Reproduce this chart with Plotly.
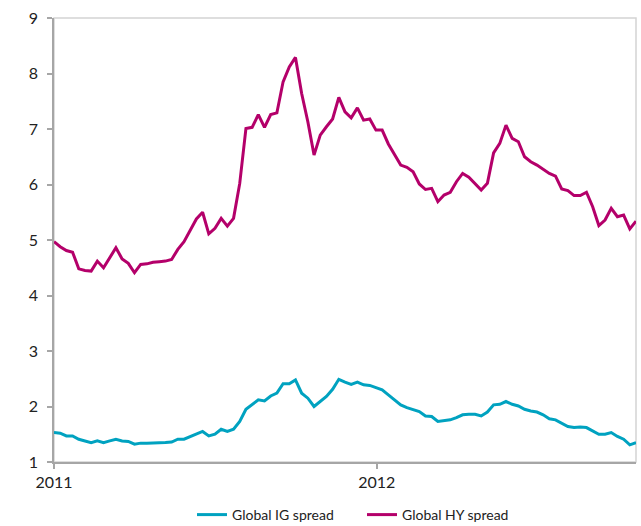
import pandas as pd
import plotly.graph_objects as go

# Weekly observations starting at the beginning of 2011
dates = pd.date_range("2011-01-01", periods=95, freq="7D")

hy_spread = [
    4.97, 4.88, 4.81, 4.78, 4.48, 4.45, 4.44, 4.62, 4.50, 4.67,
    4.86, 4.66, 4.58, 4.41, 4.56, 4.57, 4.60, 4.61, 4.62, 4.65,
    4.83, 4.97, 5.18, 5.38, 5.50, 5.11, 5.21, 5.39, 5.25, 5.39,
    6.02, 7.01, 7.03, 7.26, 7.03, 7.26, 7.29, 7.85, 8.12, 8.29,
    7.64, 7.13, 6.53, 6.89, 7.04, 7.18, 7.57, 7.31, 7.20, 7.38,
    7.16, 7.18, 6.98, 6.98, 6.73, 6.55, 6.35, 6.31, 6.23, 6.01,
    5.91, 5.93, 5.69, 5.81, 5.86, 6.05, 6.20, 6.13, 6.01, 5.90,
    6.02, 6.57, 6.74, 7.07, 6.83, 6.77, 6.50, 6.41, 6.35, 6.28,
    6.20, 6.15, 5.92, 5.89, 5.80, 5.80, 5.86, 5.60, 5.26, 5.36,
    5.57, 5.42, 5.45, 5.20, 5.34,
]

ig_spread = [
    1.53, 1.52, 1.47, 1.47, 1.41, 1.38, 1.35, 1.38, 1.35, 1.38,
    1.41, 1.38, 1.37, 1.32, 1.34, 1.34, 1.34, 1.34, 1.35, 1.36,
    1.41, 1.41, 1.46, 1.50, 1.55, 1.47, 1.50, 1.59, 1.55, 1.59,
    1.73, 1.95, 2.04, 2.12, 2.10, 2.19, 2.24, 2.41, 2.41, 2.48,
    2.24, 2.15, 2.00, 2.09, 2.18, 2.31, 2.49, 2.44, 2.40, 2.44,
    2.39, 2.38, 2.34, 2.30, 2.21, 2.12, 2.03, 1.98, 1.95, 1.91,
    1.83, 1.82, 1.73, 1.75, 1.76, 1.80, 1.85, 1.86, 1.86, 1.83,
    1.90, 2.03, 2.04, 2.09, 2.04, 2.01, 1.95, 1.92, 1.90, 1.85,
    1.78, 1.76, 1.70, 1.64, 1.62, 1.63, 1.62, 1.56, 1.50, 1.50,
    1.53, 1.46, 1.41, 1.31, 1.35,
]

year_ticks = ["2011-01-01", "2012-01-01"]
year_labels = ["2011", "2012"]
y_ticks = [1, 2, 3, 4, 5, 6, 7, 8, 9]

IG_COLOR = "#00a2c0"
HY_COLOR = "#b4006a"
FONT = "Lato, 'Open Sans', sans-serif"

fig = go.Figure()
fig.add_trace(go.Scatter(
    x=dates, y=ig_spread, mode="lines", name="Global IG spread",
    line=dict(color=IG_COLOR, width=3),
))
fig.add_trace(go.Scatter(
    x=dates, y=hy_spread, mode="lines", name="Global HY spread",
    line=dict(color=HY_COLOR, width=3),
))

# light frame around the plotting area
fig.add_shape(type="rect", xref="paper", yref="paper", x0=0, y0=0, x1=1, y1=1,
              line=dict(color="#d4d4d4", width=1.5), layer="below")

fig.update_layout(
    width=641, height=526,
    margin=dict(l=54, r=5, t=18, b=64, autoexpand=False),
    paper_bgcolor="white", plot_bgcolor="white",
    font=dict(family=FONT, size=16, color="#222222"),
    showlegend=True,
    legend=dict(orientation="h",
                xref="container", yref="container",
                x=192 / 641, xanchor="left",
                y=(526 - 515) / 526, yanchor="middle",
                font=dict(size=14, color="#222222"), itemwidth=30,
                entrywidth=125, tracegroupgap=0),
    xaxis=dict(
        type="date",
        range=[dates[0], dates[-1]],
        tickvals=year_ticks, ticktext=year_labels,
        showgrid=False, zeroline=False, automargin=False,
        showline=True, linecolor="#a6a6a6", linewidth=1.5,
        ticks="outside", ticklen=5, tickcolor="#a6a6a6", tickwidth=1.5,
    ),
    yaxis=dict(
        range=[1, 9], tickvals=y_ticks,
        showgrid=False, zeroline=False, automargin=False,
        showline=True, linecolor="#a6a6a6", linewidth=1.5,
        ticks="outside", ticklen=5, tickcolor="#a6a6a6", tickwidth=1.5,
        ticklabelstandoff=6,
    ),
)

fig.write_html("out.html")
